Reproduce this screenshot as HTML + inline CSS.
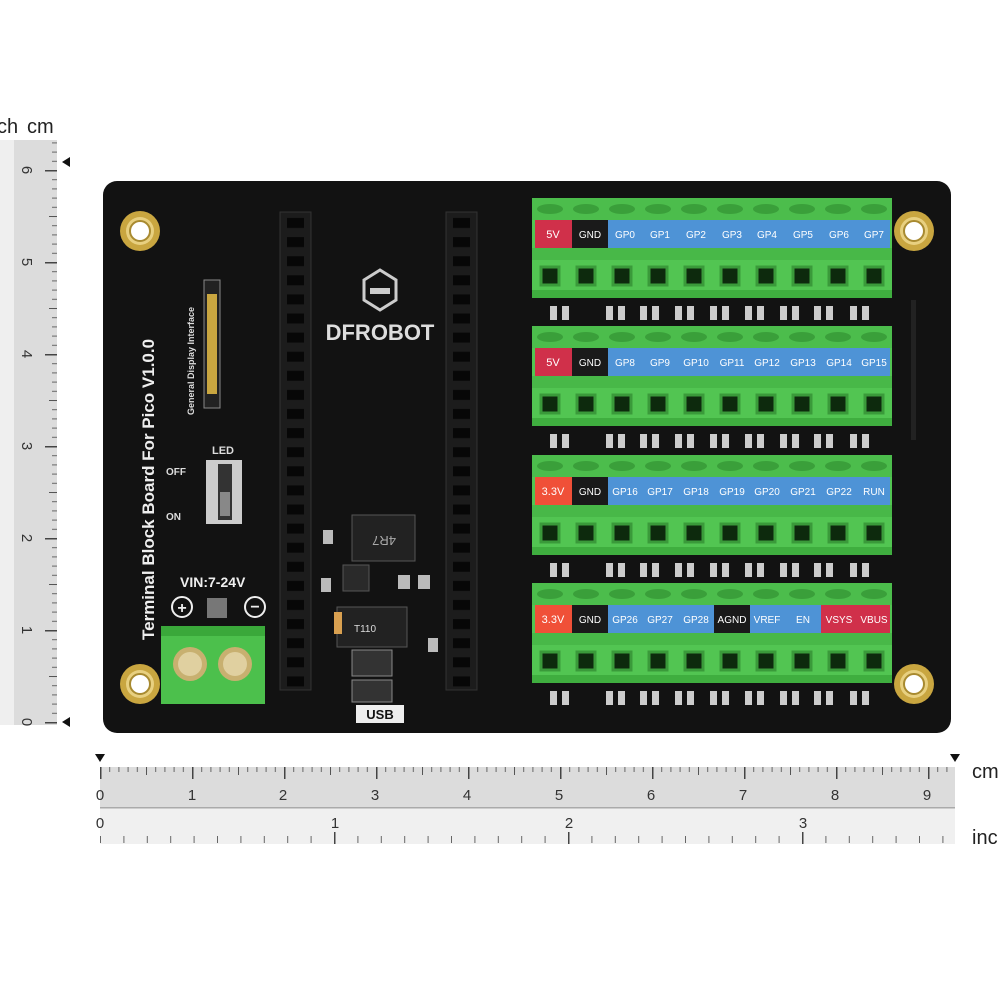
<!DOCTYPE html>
<html><head><meta charset="utf-8"><style>
body{margin:0;background:#fff}
svg{display:block}
text{font-family:"Liberation Sans",sans-serif}
</style></head><body>
<svg width="1000" height="1000" viewBox="0 0 1000 1000" xmlns="http://www.w3.org/2000/svg">
<defs>
<pattern id="mmh" x="100" y="0" width="9.2" height="1000" patternUnits="userSpaceOnUse"><rect x="0" y="767" width="1" height="5" fill="#666"/></pattern>
<pattern id="cmh" x="100" y="0" width="92" height="1000" patternUnits="userSpaceOnUse"><rect x="0" y="767" width="1.5" height="12" fill="#444"/><rect x="46" y="767" width="1" height="8" fill="#555"/></pattern>
<pattern id="inh" x="100" y="0" width="23.4" height="1000" patternUnits="userSpaceOnUse"><rect x="0" y="836" width="1" height="7" fill="#666"/></pattern>
<pattern id="mmv" x="0" y="722" width="1000" height="9.2" patternUnits="userSpaceOnUse"><rect x="52" y="0" width="5" height="1" fill="#666"/></pattern>
<pattern id="cmv" x="0" y="722" width="1000" height="92" patternUnits="userSpaceOnUse"><rect x="45" y="0" width="12" height="1.5" fill="#444"/><rect x="49" y="46" width="8" height="1" fill="#555"/></pattern>
<g id="hole"><circle r="20" fill="#c9a640"/><circle r="14" fill="#e8d080"/><circle r="10" fill="#fff"/><circle r="10" fill="none" stroke="#a88a30" stroke-width="2"/></g>
</defs>

<rect x="0" y="140" width="14" height="585" fill="#efefef"/>
<rect x="14" y="140" width="43" height="585" fill="#dcdcdc"/>
<rect x="0" y="140" width="57" height="585" fill="url(#mmv)"/>
<rect x="0" y="140" width="57" height="585" fill="url(#cmv)"/>
<text x="-3" y="133" font-size="20" fill="#222">ch</text>
<text x="27" y="133" font-size="20" fill="#222">cm</text>
<g font-size="15" fill="#333">
<text transform="translate(22,722) rotate(90)" text-anchor="middle">0</text>
<text transform="translate(22,630) rotate(90)" text-anchor="middle">1</text>
<text transform="translate(22,538) rotate(90)" text-anchor="middle">2</text>
<text transform="translate(22,446) rotate(90)" text-anchor="middle">3</text>
<text transform="translate(22,354) rotate(90)" text-anchor="middle">4</text>
<text transform="translate(22,262) rotate(90)" text-anchor="middle">5</text>
<text transform="translate(22,170) rotate(90)" text-anchor="middle">6</text>
</g>
<polygon points="62,162 70,157 70,167" fill="#111"/>
<polygon points="62,722 70,717 70,727" fill="#111"/>

<rect x="100" y="767" width="855" height="41" fill="#dcdcdc"/>
<rect x="100" y="808" width="855" height="36" fill="#f0f0f0"/>
<rect x="100" y="807" width="855" height="1.5" fill="#aaa"/>
<rect x="100" y="767" width="855" height="41" fill="url(#mmh)"/>
<rect x="100" y="767" width="855" height="41" fill="url(#cmh)"/>
<rect x="100" y="808" width="855" height="36" fill="url(#inh)"/>
<rect x="334" y="832" width="1.5" height="12" fill="#444"/><rect x="568" y="832" width="1.5" height="12" fill="#444"/><rect x="802" y="832" width="1.5" height="12" fill="#444"/>
<g font-size="15" fill="#333" text-anchor="middle">
<text x="100" y="800">0</text><text x="192" y="800">1</text><text x="283" y="800">2</text><text x="375" y="800">3</text><text x="467" y="800">4</text><text x="559" y="800">5</text><text x="651" y="800">6</text><text x="743" y="800">7</text><text x="835" y="800">8</text><text x="927" y="800">9</text>
<text x="100" y="828">0</text><text x="335" y="828">1</text><text x="569" y="828">2</text><text x="803" y="828">3</text>
</g>
<text x="972" y="778" font-size="20" fill="#222">cm</text>
<text x="972" y="844" font-size="20" fill="#222">inc</text>
<polygon points="95,754 105,754 100,762" fill="#111"/>
<polygon points="950,754 960,754 955,762" fill="#111"/>

<rect x="103" y="181" width="848" height="552" rx="14" fill="#121212"/>
<use href="#hole" x="140" y="231"/><use href="#hole" x="914" y="231"/>
<use href="#hole" x="140" y="684"/><use href="#hole" x="914" y="684"/>

<rect x="280" y="212" width="31" height="478" fill="#1c1c1c" stroke="#333"/>
<rect x="446" y="212" width="31" height="478" fill="#1c1c1c" stroke="#333"/>
<defs><pattern id="pins" x="0" y="214" width="20" height="19.1" patternUnits="userSpaceOnUse"><rect x="0" y="4" width="20" height="10" fill="#070707"/></pattern></defs>
<rect x="287" y="214" width="17" height="474" fill="url(#pins)"/>
<rect x="453" y="214" width="17" height="474" fill="url(#pins)"/>

<path d="M364 280 L380 270 L396 280 L396 300 L380 310 L364 300Z" fill="none" stroke="#ccc" stroke-width="3"/>
<rect x="370" y="288" width="20" height="6" fill="#ccc"/>
<text x="380" y="340" font-size="22" font-weight="bold" fill="#ddd" text-anchor="middle">DFROBOT</text>

<text transform="translate(154,640) rotate(-90)" font-size="17" font-weight="bold" fill="#eee">Terminal Block Board For Pico V1.0.0</text>
<text transform="translate(194,415) rotate(-90)" font-size="9" font-weight="bold" fill="#ddd">General Display Interface</text>
<rect x="204" y="280" width="16" height="128" fill="#222" stroke="#888"/>
<rect x="207" y="294" width="10" height="100" fill="#c9a640"/>
<text x="212" y="454" font-size="11" font-weight="bold" fill="#ddd">LED</text>
<text x="166" y="475" font-size="10" font-weight="bold" fill="#ddd">OFF</text>
<text x="166" y="520" font-size="10" font-weight="bold" fill="#ddd">ON</text>
<rect x="206" y="460" width="36" height="64" fill="#ccc"/>
<rect x="218" y="464" width="14" height="56" fill="#333"/>
<rect x="220" y="492" width="10" height="24" fill="#888"/>
<text x="180" y="587" font-size="14" font-weight="bold" fill="#eee">VIN:7-24V</text>
<circle cx="182" cy="607" r="10" fill="none" stroke="#eee" stroke-width="2"/><text x="182" y="613" font-size="16" font-weight="bold" fill="#eee" text-anchor="middle">+</text>
<circle cx="255" cy="607" r="10" fill="none" stroke="#eee" stroke-width="2"/><text x="255" y="612" font-size="16" font-weight="bold" fill="#eee" text-anchor="middle">−</text>
<rect x="207" y="598" width="20" height="20" fill="#777"/>
<rect x="161" y="626" width="104" height="78" fill="#4cc04c"/>
<rect x="161" y="626" width="104" height="10" fill="#3aa83a"/>
<circle cx="190" cy="664" r="17" fill="#c8b070"/><circle cx="190" cy="664" r="12" fill="#e0d0a0"/>
<circle cx="235" cy="664" r="17" fill="#c8b070"/><circle cx="235" cy="664" r="12" fill="#e0d0a0"/>

<rect x="352" y="515" width="63" height="46" fill="#222" stroke="#555"/>
<text x="384" y="544" font-size="13" fill="#aaa" text-anchor="middle" transform="rotate(180 384 540)">4R7</text>
<rect x="343" y="565" width="26" height="26" fill="#2a2a2a" stroke="#555"/>
<rect x="337" y="607" width="70" height="40" fill="#222" stroke="#555"/>
<text x="354" y="632" font-size="10" fill="#ddd">T110</text>
<rect x="352" y="650" width="40" height="26" fill="#333" stroke="#888"/>
<rect x="352" y="680" width="40" height="22" fill="#333" stroke="#888"/>
<rect x="356" y="705" width="48" height="18" fill="#eee"/>
<text x="380" y="719" font-size="13" font-weight="bold" fill="#111" text-anchor="middle">USB</text>
<g fill="#bbb"><rect x="323" y="530" width="10" height="14"/><rect x="321" y="578" width="10" height="14"/><rect x="398" y="575" width="12" height="14"/><rect x="418" y="575" width="12" height="14"/><rect x="428" y="638" width="10" height="14"/><rect x="334" y="612" width="8" height="22" fill="#d9a050"/></g>
<rect x="911" y="300" width="5" height="140" fill="#222"/>

<defs>
<g id="row">
<rect x="0" y="0" width="360" height="100" fill="#52c552"/>
<rect x="0" y="0" width="360" height="22" fill="#4cbd4c"/>
<rect x="0" y="50" width="360" height="12" fill="#48b848"/>
<rect x="0" y="92" width="360" height="8" fill="#3fae3f"/>
<g fill="#3a9f3a">
<ellipse cx="18" cy="11" rx="13" ry="5"/><ellipse cx="54" cy="11" rx="13" ry="5"/><ellipse cx="90" cy="11" rx="13" ry="5"/><ellipse cx="126" cy="11" rx="13" ry="5"/><ellipse cx="162" cy="11" rx="13" ry="5"/><ellipse cx="198" cy="11" rx="13" ry="5"/><ellipse cx="234" cy="11" rx="13" ry="5"/><ellipse cx="270" cy="11" rx="13" ry="5"/><ellipse cx="306" cy="11" rx="13" ry="5"/><ellipse cx="342" cy="11" rx="13" ry="5"/>
</g>
<g fill="#0d2a0d" stroke="#3a9a3a" stroke-width="3">
<rect x="9" y="69" width="18" height="18"/><rect x="45" y="69" width="18" height="18"/><rect x="81" y="69" width="18" height="18"/><rect x="117" y="69" width="18" height="18"/><rect x="153" y="69" width="18" height="18"/><rect x="189" y="69" width="18" height="18"/><rect x="225" y="69" width="18" height="18"/><rect x="261" y="69" width="18" height="18"/><rect x="297" y="69" width="18" height="18"/><rect x="333" y="69" width="18" height="18"/>
</g>
</g>
<g id="leds" fill="#ccc">
<rect x="20" y="0" width="7" height="14"/><rect x="32" y="0" width="7" height="14"/>
<rect x="76" y="0" width="7" height="14"/><rect x="88" y="0" width="7" height="14"/>
<rect x="110" y="0" width="7" height="14"/><rect x="122" y="0" width="7" height="14"/>
<rect x="145" y="0" width="7" height="14"/><rect x="157" y="0" width="7" height="14"/>
<rect x="180" y="0" width="7" height="14"/><rect x="192" y="0" width="7" height="14"/>
<rect x="215" y="0" width="7" height="14"/><rect x="227" y="0" width="7" height="14"/>
<rect x="250" y="0" width="7" height="14"/><rect x="262" y="0" width="7" height="14"/>
<rect x="284" y="0" width="7" height="14"/><rect x="296" y="0" width="7" height="14"/>
<rect x="320" y="0" width="7" height="14"/><rect x="332" y="0" width="7" height="14"/>
</g>
</defs>

<g font-size="10" fill="#fff" text-anchor="middle">
<use href="#row" x="532" y="198"/>
<use href="#leds" x="530" y="306"/>
<rect x="535" y="220" width="37" height="28" fill="#d0304a"/><rect x="572" y="220" width="36" height="28" fill="#1a1a1a"/>
<rect x="608" y="220" width="282" height="28" fill="#4e93d6"/>
<text x="553" y="238" font-size="11">5V</text><text x="590" y="238">GND</text><text x="625" y="238">GP0</text><text x="660" y="238">GP1</text><text x="696" y="238">GP2</text><text x="732" y="238">GP3</text><text x="767" y="238">GP4</text><text x="803" y="238">GP5</text><text x="839" y="238">GP6</text><text x="874" y="238">GP7</text>

<use href="#row" x="532" y="326"/>
<use href="#leds" x="530" y="434"/>
<rect x="535" y="348" width="37" height="28" fill="#d0304a"/><rect x="572" y="348" width="36" height="28" fill="#1a1a1a"/>
<rect x="608" y="348" width="282" height="28" fill="#4e93d6"/>
<text x="553" y="366" font-size="11">5V</text><text x="590" y="366">GND</text><text x="625" y="366">GP8</text><text x="660" y="366">GP9</text><text x="696" y="366">GP10</text><text x="732" y="366">GP11</text><text x="767" y="366">GP12</text><text x="803" y="366">GP13</text><text x="839" y="366">GP14</text><text x="874" y="366">GP15</text>

<use href="#row" x="532" y="455"/>
<use href="#leds" x="530" y="563"/>
<rect x="535" y="477" width="37" height="28" fill="#f05038"/><rect x="572" y="477" width="36" height="28" fill="#1a1a1a"/>
<rect x="608" y="477" width="282" height="28" fill="#4e93d6"/>
<text x="553" y="495" font-size="11">3.3V</text><text x="590" y="495">GND</text><text x="625" y="495">GP16</text><text x="660" y="495">GP17</text><text x="696" y="495">GP18</text><text x="732" y="495">GP19</text><text x="767" y="495">GP20</text><text x="803" y="495">GP21</text><text x="839" y="495">GP22</text><text x="874" y="495">RUN</text>

<use href="#row" x="532" y="583"/>
<use href="#leds" x="530" y="691"/>
<rect x="535" y="605" width="37" height="28" fill="#f05038"/><rect x="572" y="605" width="36" height="28" fill="#1a1a1a"/>
<rect x="608" y="605" width="106" height="28" fill="#4e93d6"/><rect x="714" y="605" width="36" height="28" fill="#1a1a1a"/>
<rect x="750" y="605" width="71" height="28" fill="#4e93d6"/><rect x="821" y="605" width="69" height="28" fill="#d0304a"/>
<text x="553" y="623" font-size="11">3.3V</text><text x="590" y="623">GND</text><text x="625" y="623">GP26</text><text x="660" y="623">GP27</text><text x="696" y="623">GP28</text><text x="732" y="623">AGND</text><text x="767" y="623">VREF</text><text x="803" y="623">EN</text><text x="839" y="623">VSYS</text><text x="874" y="623">VBUS</text>
</g>
</svg>
</body></html>
